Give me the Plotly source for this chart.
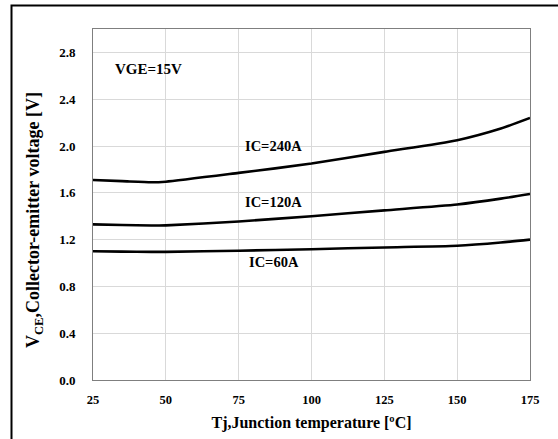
import plotly.graph_objects as go

tj = [25, 35, 45, 50, 75, 100, 125, 150, 165, 175]
ic240 = [1.71, 1.70, 1.69, 1.695, 1.77, 1.85, 1.95, 2.05, 2.15, 2.24]
ic120 = [1.33, 1.325, 1.32, 1.322, 1.355, 1.40, 1.45, 1.50, 1.55, 1.59]
ic60 = [1.10, 1.097, 1.095, 1.095, 1.105, 1.118, 1.133, 1.147, 1.175, 1.20]

x_ticks = [25, 50, 75, 100, 125, 150, 175]
y_ticks = [0.0, 0.4, 0.8, 1.2, 1.6, 2.0, 2.4, 2.8]
y_tick_labels = ["0.0", "0.4", "0.8", "1.2", "1.6", "2.0", "2.4", "2.8"]

labels = [("VGE=15V", 31.9, 2.66, 15), ("IC=240A", 76.5, 2.0, 14.5),
          ("IC=120A", 76.5, 1.525, 14.5), ("IC=60A", 77.9, 1.005, 14.5)]

x_title = "Tj,Junction temperature [ºC]"
y_title = "V<sub>CE</sub>,Collector-emitter voltage [V]"

FONT = "Liberation Serif"

fig = go.Figure()
for ys in (ic240, ic120, ic60):
    fig.add_trace(go.Scatter(x=tj, y=ys, mode="lines",
                             line=dict(color="black", width=2.6, shape="spline", smoothing=0.6),
                             showlegend=False, hoverinfo="skip"))

for text, xv, yv, fs in labels:
    fig.add_annotation(x=xv, y=yv, text="<b>%s</b>" % text, showarrow=False, xanchor="left",
                       font=dict(family=FONT, size=fs, color="black"))

W, H = 558, 439
ml, mr, mt, mb = 93, 28, 29, 59
pw, ph = W - ml - mr, H - mt - mb
def px2paper_x(px):
    return (px - ml) / pw
def px2paper_y(py):
    return (H - mb - py) / ph

fig.add_annotation(xref="paper", yref="paper", x=px2paper_x(34), y=px2paper_y(220),
                   text="<b>%s</b>" % y_title, textangle=-90, showarrow=False,
                   xanchor="center", yanchor="middle",
                   font=dict(family=FONT, size=18, color="black"))

fig.add_shape(type="rect", xref="paper", yref="paper",
              x0=px2paper_x(11.5), x1=px2paper_x(600), y0=px2paper_y(480), y1=px2paper_y(5.5),
              line=dict(color="black", width=2), fillcolor="rgba(0,0,0,0)", layer="above")

fig.update_layout(
    width=W, height=H,
    margin=dict(l=ml, r=mr, t=mt, b=mb),
    paper_bgcolor="white", plot_bgcolor="white",
    font=dict(family=FONT, color="black"),
    xaxis=dict(range=[25, 175], tickvals=x_ticks, ticktext=["<b>%d</b>" % v for v in x_ticks],
               showgrid=True, gridcolor="#d9d9d9", gridwidth=1, zeroline=False,
               showline=True, linecolor="#7f7f7f", linewidth=1, mirror=True, ticks="",
               tickfont=dict(family=FONT, size=12.5, color="black"), ticklabelstandoff=8,
               title=dict(text="<b>%s</b>" % x_title,
                          font=dict(family=FONT, size=16, color="black"), standoff=10)),
    yaxis=dict(range=[0, 3.0], tickvals=y_ticks, ticktext=["<b>%s</b>" % t for t in y_tick_labels],
               showgrid=True, gridcolor="#d9d9d9", gridwidth=1, zeroline=False,
               showline=True, linecolor="#7f7f7f", linewidth=1, mirror=True, ticks="",
               tickfont=dict(family=FONT, size=13, color="black"), ticklabelstandoff=14),
)

fig.write_html("out.html", config={"displayModeBar": False},
               post_script="document.body.style.margin='0';document.body.style.padding='0';document.body.style.overflow='hidden';")
